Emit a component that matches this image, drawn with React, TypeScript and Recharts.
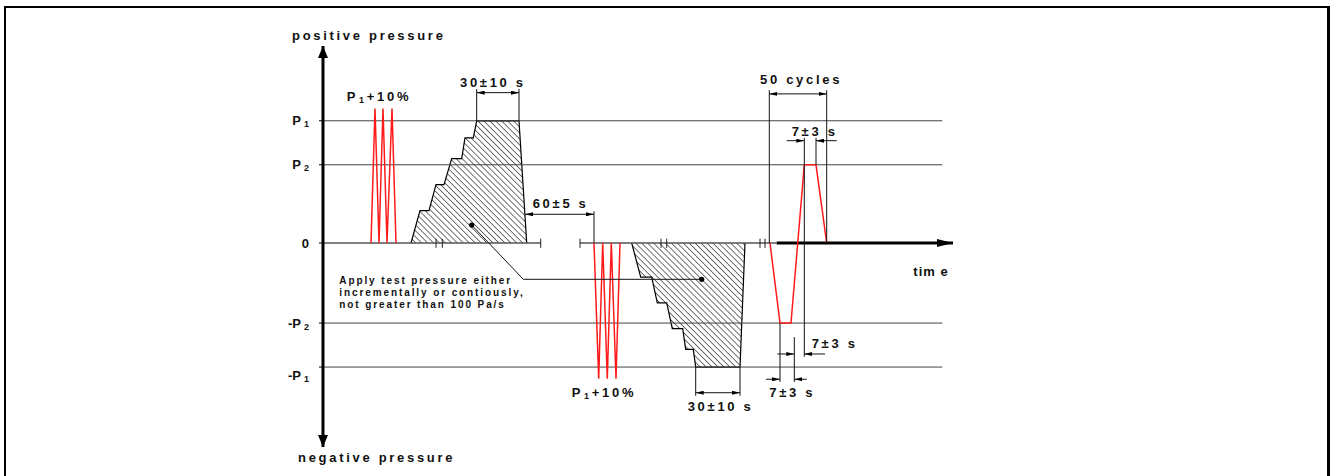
import * as React from 'react'
import { ComposedChart, Line, Area, XAxis, YAxis, ReferenceLine, ReferenceDot } from 'recharts'

const FONT = '"Liberation Sans", Arial, Helvetica, sans-serif'
const RED = '#ff1a1a'

// pressure levels, P1 taken as 100
const levelValues = [100, 64, 0, -65.5, -101.5]
const levelNames = ['P1', 'P2', '0', '-P2', '-P1']
const levelLineEnd = 619.3

// P1 + 10% pulses (time in drawing units)
const pulseUpT = [48, 52, 56, 60, 64, 69, 73]
const pulseUpP = [0, 110, 0, 110, 0, 110, 0]
const pulseDownT = [271, 275.7, 279.7, 284.3, 288.3, 293, 297]
const pulseDownP = [0, -111, 0, -111, 0, -111, 0]

// stepped ramps, hatched
const rampUpT = [88, 97, 106, 113, 121, 128.7, 138.7, 142, 150.3, 153.7, 196, 203.7]
const rampUpP = [0, 26.5, 26.5, 47.8, 47.8, 69, 69, 86, 86, 100, 100, 0]
const rampDownT = [308.7, 317.7, 328.7, 334.3, 343.7, 349.3, 359.7, 362.7, 370.3, 372.7, 417, 422]
const rampDownP = [0, -28, -28, -49, -49, -70, -70, -87, -87, -101.5, -101.5, 0]

// one of the 50 cycles
const cycleT = [447, 457, 468, 481.3, 493, 503.7]
const cycleP = [0, -65.5, -65.5, 64, 64, 0]

// zero line pieces and break marks
const zeroPieces = [[0, 217.7], [257, 453.7]]
const zeroTicks = [113, 119.3, 217.7, 257, 338, 343.7, 437, 442]
const timeAxis = [453.7, 630]
const pAxis = [161.2, -167]

type Pt = [number, number]

// extension lines of the dimensions
const extLines: [Pt, Pt][] = [
  [[153.7, 100], [153.7, 126]],
  [[196, 100], [196, 126]],
  [[271, 0], [271, 26]],
  [[446.3, 0], [446.3, 125]],
  [[503.7, 0], [503.7, 125]],
  [[481.3, 86], [481.3, -93]],
  [[493, 64], [493, 86]],
  [[471.3, -77], [471.3, -113.7]],
  [[457, -65.5], [457, -113.7]],
  [[372.7, -101.5], [372.7, -125]],
  [[417, -101.5], [417, -125]],
]

// dimension lines: both = arrows at both ends, end = arrow at end only
const dimLines: [Pt, Pt, 'both' | 'end'][] = [
  [[153.7, 123], [196, 123], 'both'],
  [[202, 23.5], [271, 23.5], 'both'],
  [[446.3, 122], [503.7, 122], 'both'],
  [[463.7, 83.7], [481.3, 83.7], 'end'],
  [[513.7, 83.7], [493, 83.7], 'end'],
  [[454.3, -90.8], [471.3, -90.8], 'end'],
  [[502, -90.8], [481.3, -90.8], 'end'],
  [[443, -111.5], [457, -111.5], 'end'],
  [[483.7, -111.5], [471.3, -111.5], 'end'],
  [[372.7, -122.5], [417, -122.5], 'both'],
]

const leader: Pt[] = [[148.7, 14.7], [200.3, -29.7], [378.7, -29.7]]

type Note = { t: number; p: number; text: string; sub?: string; rest?: string; small?: boolean; spacing?: number }

const notes: Note[] = [
  { t: -31, p: 170.2, text: 'positive pressure' },
  { t: -25, p: -175, text: 'negative pressure' },
  { t: 23.7, p: 120.3, text: 'P', sub: '1', rest: '+10%' },
  { t: 248.7, p: -122.2, text: 'P', sub: '1', rest: '+10%' },
  { t: 137, p: 131.2, text: '30±10 s' },
  { t: 364.7, p: -134, text: '30±10 s' },
  { t: 209.7, p: 32.5, text: '60±5 s' },
  { t: 437, p: 134, text: '50 cycles' },
  { t: 468.7, p: 91.6, text: '7±3 s' },
  { t: 488.7, p: -82, text: '7±3 s' },
  { t: 446.3, p: -122.2, text: '7±3 s' },
  { t: 590.3, p: -23.5, text: 'tim e', spacing: 1 },
  { t: 16.3, p: -30.3, text: 'Apply test pressure either', small: true },
  { t: 16.3, p: -40.7, text: 'incrementally or contiously,', small: true },
  { t: 16.3, p: -50.5, text: 'not greater than 100 Pa/s', small: true },
]

const zip = (t: number[], p: number[]) => t.map((v, i) => ({ t: v, p: p[i] }))

function Caption({ cx, cy, note }: { cx?: number; cy?: number; note: Note }) {
  const size = note.small ? 10 : 13
  const spacing = note.spacing ?? (note.small ? 1.9 : 2.7)
  return (
    <text x={cx} y={(cy ?? 0) + size * 0.36} fontFamily={FONT} fontWeight="bold" fontSize={size}
      letterSpacing={spacing} fill="#111">
      {note.text}
      {note.sub && <tspan fontSize={9} dx={1} dy={2}>{note.sub}</tspan>}
      {note.rest && <tspan fontSize={size} dy={-2}>{note.rest}</tspan>}
    </text>
  )
}

function LevelTick(props: any) {
  const { x, y, payload } = props
  const name = levelNames[levelValues.indexOf(payload.value)] ?? ''
  const m = name.match(/^(-?P)(\d)$/)
  const main = m ? m[1] : name
  const sub = m ? m[2] : undefined
  const shift = payload.value === -101.5 ? 8 : 0
  return (
    <text x={x} y={y + shift + 4.6} textAnchor="end" fontFamily={FONT} fontWeight="bold" fontSize={13} fill="#111">
      {main}
      {sub && <tspan fontSize={9} dx={3} dy={2}>{sub}</tspan>}
    </text>
  )
}

const seg = (stroke: string, width: number, start?: string, end?: string) => (p: any) => (
  <line x1={p.x1} y1={p.y1} x2={p.x2} y2={p.y2} stroke={stroke} strokeWidth={width}
    markerStart={start ? `url(#${start})` : undefined} markerEnd={end ? `url(#${end})` : undefined} />
)

function Defs() {
  return (
    <svg width={0} height={0} style={{ position: 'absolute' }}>
      <defs>
        <pattern id="hatch" width={4.2} height={4.2} patternUnits="userSpaceOnUse" patternTransform="rotate(-45)">
          <line x1={0} y1={0} x2={0} y2={4.2} stroke="#000" strokeWidth={1.1} />
        </pattern>
        <marker id="dimArrow" viewBox="0 0 8 4" refX={8} refY={2} markerWidth={8} markerHeight={4}
          markerUnits="userSpaceOnUse" orient="auto-start-reverse">
          <path d="M0,0 L8,2 L0,4 Z" fill="#000" />
        </marker>
        <marker id="axisArrow" viewBox="0 0 12 10" refX={12} refY={5} markerWidth={12} markerHeight={10}
          markerUnits="userSpaceOnUse" orient="auto-start-reverse">
          <path d="M0,0 L12,5 L0,10 Z" fill="#000" />
        </marker>
        <marker id="timeArrow" viewBox="0 0 16 8" refX={16} refY={4} markerWidth={16} markerHeight={8}
          markerUnits="userSpaceOnUse" orient="auto">
          <path d="M0,0 L16,4 L0,8 Z" fill="#000" />
        </marker>
      </defs>
    </svg>
  )
}

export default function App() {
  return (
    <div style={{ position: 'absolute', left: 0, top: 0, width: 1335, height: 476, background: '#fff', overflow: 'hidden' }}>
      <Defs />
      <div style={{
        position: 'absolute', left: 4, top: 6, width: 1321, height: 480,
        borderTop: '2px solid #000', borderLeft: '2px solid #000', borderRight: '3px solid #000',
      }} />
      <ComposedChart width={1335} height={476} margin={{ top: 45, right: 352, bottom: 35, left: 263 }}>
        <XAxis dataKey="t" type="number" domain={[0, 660]} hide allowDataOverflow />
        <YAxis type="number" domain={[-162, 162]} ticks={levelValues} interval={0} width={60}
          axisLine={false} tickSize={4} tickMargin={10} tickLine={{ stroke: '#000', strokeWidth: 1 }}
          tick={<LevelTick />} allowDataOverflow />

        {levelValues.filter(v => v !== 0).map(v => (
          <ReferenceLine key={`lvl${v}`} ifOverflow="visible"
            segment={[{ x: 0, y: v }, { x: levelLineEnd, y: v }]} shape={seg('#444', 1)} />
        ))}

        <Area data={zip(rampUpT, rampUpP)} dataKey="p" type="linear" stroke="#000" strokeWidth={1.2}
          fill="url(#hatch)" fillOpacity={1} baseValue={0} dot={false} activeDot={false} isAnimationActive={false} />
        <Area data={zip(rampDownT, rampDownP)} dataKey="p" type="linear" stroke="#000" strokeWidth={1.2}
          fill="url(#hatch)" fillOpacity={1} baseValue={0} dot={false} activeDot={false} isAnimationActive={false} />

        {zeroPieces.map(([a, b]) => (
          <ReferenceLine key={`z${a}`} ifOverflow="visible"
            segment={[{ x: a, y: 0 }, { x: b, y: 0 }]} shape={seg('#555', 1.5)} />
        ))}
        {zeroTicks.map(t => (
          <ReferenceLine key={`zt${t}`} ifOverflow="visible"
            segment={[{ x: t, y: 3.5 }, { x: t, y: -4 }]} shape={seg('#222', 1)} />
        ))}
        <ReferenceLine ifOverflow="visible" segment={[{ x: timeAxis[0], y: 0 }, { x: timeAxis[1], y: 0 }]}
          shape={seg('#000', 3, undefined, 'timeArrow')} />
        <ReferenceLine ifOverflow="visible" segment={[{ x: 0, y: pAxis[0] }, { x: 0, y: pAxis[1] }]}
          shape={seg('#000', 3, 'axisArrow', 'axisArrow')} />

        <Line data={zip(pulseUpT, pulseUpP)} dataKey="p" type="linear" stroke={RED} strokeWidth={1.5}
          dot={false} activeDot={false} isAnimationActive={false} />
        <Line data={zip(pulseDownT, pulseDownP)} dataKey="p" type="linear" stroke={RED} strokeWidth={1.5}
          dot={false} activeDot={false} isAnimationActive={false} />
        <Line data={zip(cycleT, cycleP)} dataKey="p" type="linear" stroke={RED} strokeWidth={1.5}
          dot={false} activeDot={false} isAnimationActive={false} />

        {extLines.map(([a, b], i) => (
          <ReferenceLine key={`e${i}`} ifOverflow="visible"
            segment={[{ x: a[0], y: a[1] }, { x: b[0], y: b[1] }]} shape={seg('#111', 1)} />
        ))}
        {dimLines.map(([a, b, kind], i) => (
          <ReferenceLine key={`d${i}`} ifOverflow="visible"
            segment={[{ x: a[0], y: a[1] }, { x: b[0], y: b[1] }]}
            shape={seg('#111', 1, kind === 'both' ? 'dimArrow' : undefined, 'dimArrow')} />
        ))}
        {leader.slice(1).map((b, i) => (
          <ReferenceLine key={`l${i}`} ifOverflow="visible"
            segment={[{ x: leader[i][0], y: leader[i][1] }, { x: b[0], y: b[1] }]} shape={seg('#111', 1)} />
        ))}
        {[leader[0], leader[leader.length - 1]].map(([t, p]) => (
          <ReferenceDot key={`ld${t}`} x={t} y={p} r={2.6} fill="#000" stroke="none" ifOverflow="visible" />
        ))}

        {notes.map((n, i) => (
          <ReferenceDot key={`n${i}`} x={n.t} y={n.p} r={0} ifOverflow="visible"
            shape={(p: any) => <Caption cx={p.cx} cy={p.cy} note={n} />} />
        ))}
      </ComposedChart>
    </div>
  )
}
